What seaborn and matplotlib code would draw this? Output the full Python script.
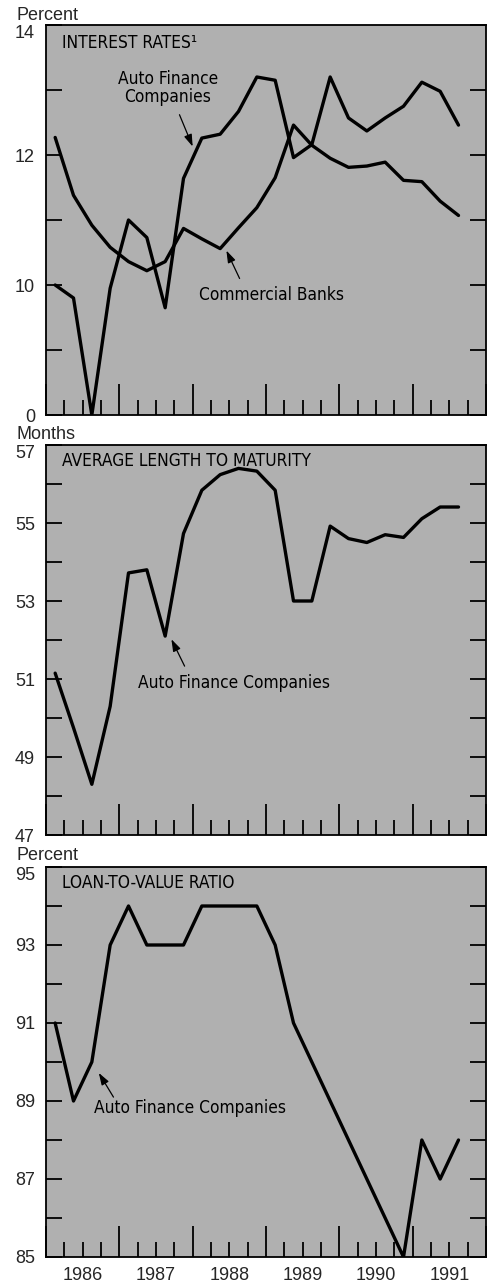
import numpy as np
import pandas as pd
import matplotlib
matplotlib.use("Agg")
import matplotlib.pyplot as plt
from matplotlib import font_manager as fm
import seaborn as sns

# quarterly observations, 1986Q1 - 1991Q3
quarters = pd.period_range("1986Q1", "1991Q3", freq="Q")

# interest rates, percent (bottom of scale is broken: 8 is shown as "0")
auto_rate = [10.0, 9.8, 8.0, 9.95, 11.0, 10.73, 9.65, 11.64, 12.26, 12.32, 12.67, 13.2,
             13.15, 11.96, 12.16, 13.2, 12.57, 12.37, 12.57, 12.75, 13.12, 12.98, 12.46]
bank_rate = [12.27, 11.38, 10.92, 10.58, 10.36, 10.22, 10.36, 10.87, 10.71, 10.56, 10.88, 11.19,
             11.65, 12.46, 12.15, 11.95, 11.81, 11.83, 11.89, 11.61, 11.59, 11.29, 11.07]

# average maturity, months
maturity = [51.15, 49.75, 48.3, 50.3, 53.72, 53.8, 52.1, 54.73, 55.84, 56.24, 56.4, 56.33,
            55.84, 53.0, 53.0, 54.92, 54.6, 54.5, 54.7, 54.63, 55.11, 55.41, 55.41]

# loan-to-value ratio, percent
ltv = [91, 89, 90, 93, 94, 93, 93, 93, 94, 94, 94, 94,
       93, 91, 90, 89, 88, 87, 86, 85, 88, 87, 88]

years = [1986, 1987, 1988, 1989, 1990, 1991]

df = pd.DataFrame({
    "t": [q.year + (q.quarter - 0.5) / 4 for q in quarters],
    "auto_rate": auto_rate,
    "bank_rate": bank_rate,
    "maturity": maturity,
    "ltv": ltv,
})

sns.set_theme(style="ticks")
plt.rcParams["font.family"] = ["Liberation Sans", "DejaVu Sans"]

# the original uses Helvetica Condensed; take a condensed sans if one is installed
narrow_file = None
for f in fm.fontManager.ttflist:
    is_narrow = ("Narrow" in f.name or "Condensed" in f.name
                 or str(f.stretch) in ("condensed", "semi-condensed", "75", "87.5"))
    if is_narrow and f.style == "normal" and f.weight in (400, "normal", "regular"):
        if "Sans" in f.name or "Roboto" in f.name:
            narrow_file = f.fname
            break

if narrow_file:
    txt_font = dict(fontproperties=fm.FontProperties(fname=narrow_file, size=12.4))
else:
    txt_font = dict(family=["Roboto", "Liberation Sans"], fontsize=12)

fig = plt.figure(figsize=(4.89, 12.84), dpi=100)
W, H = 489, 1284
bg = "#b0b0b0"


def make_axes(top_px):
    ax = fig.add_axes([46 / W, 1 - (top_px + 390) / H, 440 / W, 390 / H])
    ax.set_facecolor(bg)
    for s in ax.spines.values():
        s.set_color("black")
        s.set_linewidth(1.3)
    ax.set_xlim(1986, 1991.95)
    ax.set_xticks(years + [1992])
    ax.set_xticklabels([""] * 7)
    qt = [y + f for y in years for f in (0.25, 0.5, 0.75)]
    ax.set_xticks(qt, minor=True)
    ax.tick_params(axis="x", which="major", direction="in", length=22, width=1.3,
                   bottom=True, top=False, color="black")
    ax.tick_params(axis="x", which="minor", direction="in", length=11, width=1.3,
                   bottom=True, top=False, color="black", labelsize=13, pad=7)
    ax.tick_params(axis="y", which="major", direction="in", length=11.5, width=1.3,
                   left=True, right=True, color="black", labelsize=13, pad=8)
    return ax


def ylabels(ax, lo, hi, shown):
    ticks = list(range(lo, hi + 1))
    ax.set_ylim(lo, hi)
    ax.set_yticks(ticks)
    ax.set_yticklabels([shown.get(t, "") for t in ticks])
    ax.get_yticklabels()[-1].set_va("top")


line_kw = dict(color="black", linewidth=2.4, legend=False)
arrow_kw = dict(arrowstyle="-|>,head_length=0.6,head_width=0.2", color="black", lw=0.9,
                shrinkA=0, shrinkB=0)
txt_kw = dict(color="black", **txt_font)

# Panel 1: interest rates
ax1 = make_axes(25)
sns.lineplot(data=df, x="t", y="auto_rate", ax=ax1, **line_kw)
sns.lineplot(data=df, x="t", y="bank_rate", ax=ax1, **line_kw)
ax1.set_xlabel("")
ax1.set_ylabel("")
ylabels(ax1, 8, 14, {8: "0", 10: "10", 12: "12", 14: "14"})
ax1.text(0.036, 0.955, "INTEREST RATES\u00b9", transform=ax1.transAxes, va="center", **txt_kw)
ax1.text(1987.66, 13.03, "Auto Finance\nCompanies", ha="center", va="center",
         linespacing=1.0, **txt_kw)
ax1.annotate("", xy=(1988.0, 12.13), xytext=(1987.82, 12.62), arrowprops=arrow_kw)
ax1.text(1989.07, 9.84, "Commercial Banks", ha="center", va="center", **txt_kw)
ax1.annotate("", xy=(1988.46, 10.53), xytext=(1988.64, 10.1), arrowprops=arrow_kw)
fig.text(17 / W, 1 - 15 / H, "Percent", fontsize=13, va="center")

# Panel 2: maturity
ax2 = make_axes(445)
sns.lineplot(data=df, x="t", y="maturity", ax=ax2, **line_kw)
ax2.set_xlabel("")
ax2.set_ylabel("")
ylabels(ax2, 47, 57, {v: str(v) for v in range(47, 58, 2)})
ax2.text(0.036, 0.958, "AVERAGE LENGTH TO MATURITY", transform=ax2.transAxes, va="center", **txt_kw)
ax2.text(1987.26, 50.9, "Auto Finance Companies", ha="left", va="center", **txt_kw)
ax2.annotate("", xy=(1987.71, 52.02), xytext=(1987.89, 51.33), arrowprops=arrow_kw)
fig.text(17 / W, 1 - 435 / H, "Months", fontsize=13, va="center")

# Panel 3: loan-to-value
ax3 = make_axes(867)
sns.lineplot(data=df, x="t", y="ltv", ax=ax3, **line_kw)
ax3.set_xlabel("")
ax3.set_ylabel("")
ylabels(ax3, 85, 95, {v: str(v) for v in range(85, 96, 2)})
ax3.text(0.036, 0.958, "LOAN-TO-VALUE RATIO", transform=ax3.transAxes, va="center", **txt_kw)
ax3.text(1986.66, 88.83, "Auto Finance Companies", ha="left", va="center", **txt_kw)
ax3.annotate("", xy=(1986.72, 89.72), xytext=(1986.92, 89.1), arrowprops=arrow_kw)
fig.text(17 / W, 1 - 855 / H, "Percent", fontsize=13, va="center")

qt = [y + f for y in years for f in (0.25, 0.5, 0.75)]
ax3.set_xticklabels([str(int(q)) if q % 1 == 0.5 else "" for q in qt], minor=True)

fig.savefig("out.png", dpi=100)
